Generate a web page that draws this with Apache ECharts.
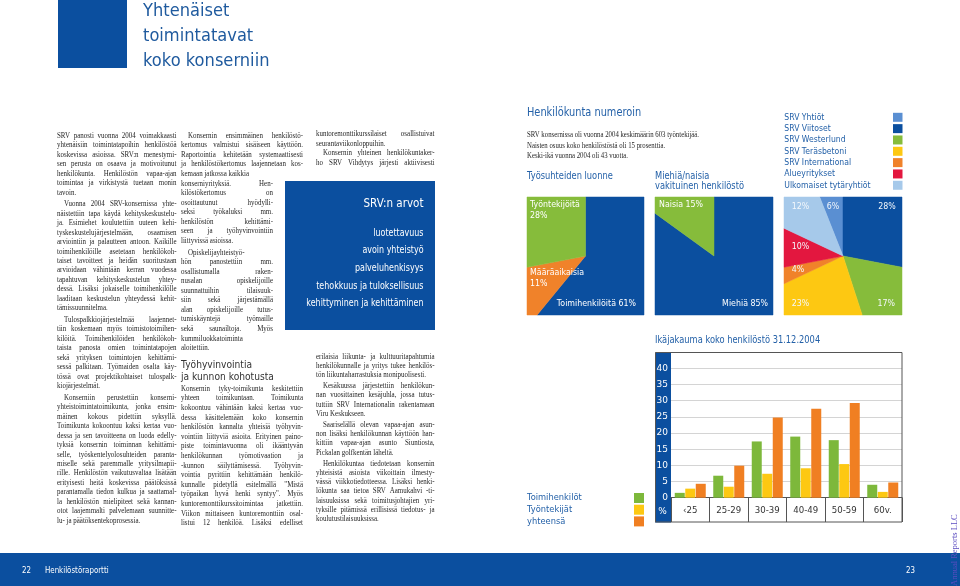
<!DOCTYPE html>
<html><head><meta charset="utf-8">
<script src="https://cdn.jsdelivr.net/npm/echarts@6/dist/echarts.min.js"></script>
<style>html,body{margin:0;padding:0;background:#fff}#c{width:960px;height:586px}</style>
</head><body><div id="c"></div>
<script>
// ---------- chart data ----------
const ageCategories = ['‹25', '25-29', '30-39', '40-49', '50-59', '60v.'];
const ageSeriesNames = ['Toimihenkilöt', 'Työntekijät', 'yhteensä'];
const toimihenkilot = [1.5, 6.8, 17.4, 18.9, 17.8, 4.0];
const tyontekijat = [2.8, 3.4, 7.4, 9.1, 10.4, 1.8];
const yhteensa = [4.3, 9.9, 24.8, 27.5, 29.3, 4.7];
const ageTickMax = 45, ageTickStep = 5;

const contractNames = ['Toimihenkilöitä', 'Määräaikaisia', 'Työntekijöitä'];
const contractValues = [61, 11, 28];
const genderNames = ['Miehiä', 'Naisia'];
const genderValues = [85, 15];
const companyNames = ['SRV Yhtiöt', 'SRV Viitoset', 'SRV Westerlund', 'SRV Teräsbetoni', 'SRV International', 'Alueyritykset', 'Ulkomaiset tytäryhtiöt'];
const companyValues = [6, 28, 17, 23, 4, 10, 12];

// ---------- texts ----------
const pageTitle = ['Yhtenäiset', 'toimintatavat', 'koko konserniin'];
const col1 = [
 {indent:false, lines:['SRV panosti vuonna 2004 voimakkaasti','yhtenäisiin toimintatapoihin henkilöstöä','koskevissa asioissa. SRV:n menestymi-','sen perusta on osaava ja motivoitunut','henkilökunta. Henkilöstön vapaa-ajan','toimintaa ja virkistystä tuetaan monin','tavoin.']},
 {indent:true, lines:['Vuonna 2004 SRV-konsernissa yhte-','näistettiin tapa käydä kehityskeskustelu-','ja. Esimiehet koulutettiin uuteen kehi-','tyskeskustelujärjestelmään, osaamisen','arviointiin ja palautteen antoon. Kaikille','toimihenkilöille asetetaan henkilökoh-','taiset tavoitteet ja heidän suoritustaan','arvioidaan vähintään kerran vuodessa','tapahtuvan kehityskeskustelun yhtey-','dessä. Lisäksi jokaiselle toimihenkilölle','laaditaan keskustelun yhteydessä kehit-','tämissuunnitelma.']},
 {indent:true, lines:['Tulospalkkiojärjestelmää laajennet-','tiin koskemaan myös toimistotoimihen-','kilöitä. Toimihenkilöiden henkilökoh-','taista panosta omien toimintatapojen','sekä yrityksen toimintojen kehittämi-','sessä palkitaan. Työmaiden osalta käy-','tössä ovat projektikohtaiset tulospalk-','kiojärjestelmät.']},
 {indent:true, lines:['Konserniin perustettiin konserni-','yhteistoimintatoimikunta, jonka ensim-','mäinen kokous pidettiin syksyllä.','Toimikunta kokoontuu kaksi kertaa vuo-','dessa ja sen tavoitteena on luoda edelly-','tyksiä konsernin toiminnan kehittämi-','selle, työskentelyolosuhteiden paranta-','miselle sekä paremmalle yritysilmapii-','rille. Henkilöstön vaikutusvaltaa lisätään','erityisesti heitä koskevissa päätöksissä','parantamalla tiedon kulkua ja saattamal-','la henkilöstön mielipiteet sekä kannan-','otot laajemmalti palvelemaan suunnitte-','lu- ja päätöksentekoprosessia.']}
];
const col2a = [
 {indent:true, lines:['Konsernin ensimmäinen henkilöstö-','kertomus valmistui sisäiseen käyttöön.','Raportointia kehitetään systemaattisesti','ja henkilöstökertomus laajennetaan kos-','kemaan jatkossa kaikkia','konserniyrityksiä. Hen-','kilöstökertomus on','osoittautunut hyödylli-','seksi työkaluksi mm.','henkilöstön kehittämi-','seen ja työhyvinvointiin','liittyvissä asioissa.']},
 {indent:true, lines:['Opiskelijayhteistyö-','hön panostettiin mm.','osallistumalla raken-','nusalan opiskelijoille','suunnattuihin tilaisuuk-','siin sekä järjestämällä','alan opiskelijoille tutus-','tumiskäyntejä työmaille','sekä saunailtoja. Myös','kummiluokkatoiminta','aloitettiin.']}
];
const col2Heading = ['Työhyvinvointia', 'ja kunnon kohotusta'];
const col2b = [
 {indent:false, cont:true, lines:['Konsernin tyky-toimikunta keskitettiin','yhteen toimikuntaan. Toimikunta','kokoontuu vähintään kaksi kertaa vuo-','dessa käsittelemään koko konsernin','henkilöstön kannalta yhteisiä työhyvin-','vointiin liittyviä asioita. Erityinen paino-','piste toimintavuonna oli ikääntyvän','henkilökunnan työmotivaation ja','-kunnon säilyttämisessä. Työhyvin-','vointia pyrittiin kehittämään henkilö-','kunnalle pidetyllä esitelmällä "Mistä','työpaikan hyvä henki syntyy". Myös','kuntoremonttikurssitoimintaa jatkettiin.','Viikon mittaiseen kuntoremonttiin osal-','listui 12 henkilöä. Lisäksi edelliset']}
];
const col3a = [
 {indent:false, lines:['kuntoremonttikurssilaiset osallistuivat','seurantaviikonloppuihin.']},
 {indent:true, cont:true, lines:['Konsernin yhteinen henkilökuntaker-','ho SRV Vihdytys järjesti aktiivisesti']}
];
const col3b = [
 {indent:false, lines:['erilaisia liikunta- ja kulttuuritapahtumia','henkilökunnalle ja yritys tukee henkilös-','tön liikuntaharrastuksia monipuolisesti.']},
 {indent:true, lines:['Kesäkuussa järjestettiin henkilökun-','nan vuosittainen kesäjuhla, jossa tutus-','tuttiin SRV Internationalin rakentamaan','Viru Keskukseen.']},
 {indent:true, lines:['Saariselällä olevan vapaa-ajan asun-','non lisäksi henkilökunnan käyttöön han-','kittiin vapaa-ajan asunto Siuntiosta,','Pickalan golfkentän läheltä.']},
 {indent:true, lines:['Henkilökuntaa tiedotetaan konsernin','yhteisistä asioista viikoittain ilmesty-','vässä viikkotiedotteessa. Lisäksi henki-','lökunta saa tietoa SRV Aamukahvi -ti-','laisuuksissa sekä toimitusjohtajien yri-','tyksille pitämissä erillisissä tiedotus- ja','koulutustilaisuuksissa.']}
];
const valuesTitle = 'SRV:n arvot';
const valuesList = ['luotettavuus', 'avoin yhteistyö', 'palveluhenkisyys', 'tehokkuus ja tuloksellisuus', 'kehittyminen ja kehittäminen'];
const factsTitle = 'Henkilökunta numeroin';
const factsLines = ['SRV konsernissa oli vuonna 2004 keskimäärin 603 työntekijää.', 'Naisten osuus koko henkilöstöstä oli 15 prosenttia.', 'Keski-ikä vuonna 2004 oli 43 vuotta.'];
const contractTitle = ['Työsuhteiden luonne'];
const genderTitle = ['Miehiä/naisia', 'vakituinen henkilöstö'];
const ageTitle = 'Ikäjakauma koko henkilöstö 31.12.2004';
const footerLeft = ['22', 'Henkilöstöraportti'];
const footerRight = '23';
const watermark = 'Annual Reports LLC';

// ---------- styles ----------
const BLUE = '#0b4f9f';
const TXTBLUE = '#2461a8';
const SANS = '"DejaVu Sans", Verdana, sans-serif';
const SERIF = '"Liberation Serif", "Times New Roman", serif';
const NARROW = 0.83;
const contractColors = ['#0b4f9f', '#f0822a', '#86bc3b'];
const genderColors = ['#0b4f9f', '#86bc3b'];
const companyColors = ['#5a8fd2', '#0b4f9f', '#86bc3b', '#fdc812', '#f0822a', '#e3173f', '#a6c9ea'];
const barColors = ['#7db83b', '#fdc812', '#f07f22'];

const G = [];
function label(x, y, text, o = {}) {
  G.push({
    type: 'text', x, y, z: o.z == null ? 10 : o.z, scaleX: o.scale == null ? NARROW : o.scale, scaleY: 1,
    originX: 0, originY: 0, rotation: o.rotation || 0, silent: true,
    style: { text, fill: o.color || TXTBLUE, fontSize: o.size || 10, fontFamily: o.family || SANS,
      textAlign: o.align || 'left', textVerticalAlign: 'middle' }
  });
}
function rect(x, y, w, h, fill, o = {}) {
  G.push({ type: 'rect', z: o.z == null ? 1 : o.z, silent: true, shape: { x, y, width: w, height: h },
    style: { fill: fill, stroke: o.stroke || null, lineWidth: o.lw || 0 } });
}

const mctx = document.createElement('canvas').getContext('2d');
function measure(t, size) { mctx.font = size + 'px ' + SERIF; return mctx.measureText(t).width; }
const ragged = new Set(['kemaan jatkossa kaikkia']);
function textBlock(paras, b) {
  let y = b.y0;
  paras.forEach((p, pi) => {
    if (pi > 0) y += b.pg || 0;
    p.lines.forEach((line, li) => {
      const first = li === 0 && p.indent;
      const ind = first ? b.indent : 0;
      const W = (b.narrowFrom != null && y >= b.narrowFrom ? b.narrowW : b.w) - ind;
      const last = (li === p.lines.length - 1 && !p.cont) || ragged.has(line);
      const words = line.split(' ');
      let sx = b.scale;
      let widths = words.map(w => measure(w, b.size) * sx);
      let sp = measure(' ', b.size) * sx;
      let sum = widths.reduce((a, c) => a + c, 0);
      const natural = sum + sp * (words.length - 1);
      if (natural > W) {
        const f = W / natural; sx *= f; widths = widths.map(w => w * f); sp *= f; sum *= f;
      } else if (!last && words.length > 1) {
        sp = (W - sum) / (words.length - 1);
      }
      let x = b.x + ind;
      words.forEach((w, i) => {
        label(x, y, w, { scale: sx, size: b.size, family: SERIF, color: '#262626' });
        x += widths[i] + sp;
      });
      y += b.lh;
    });
  });
}

// page decorations
rect(58, 0, 69, 68, BLUE);
pageTitle.forEach((t, i) => label(143, 11 + i * 25, t, { size: 17.5, scale: 0.93, color: '#1f5a9e' }));
rect(285, 181, 150, 149, BLUE);
rect(0, 553, 960, 33, BLUE);
label(22, 571, footerLeft[0], { size: 8.5, color: '#fff' });
label(45, 571, footerLeft[1], { size: 8.5, color: '#fff' });
label(906, 571, footerRight, { size: 8.5, color: '#fff' });

// body text
const BODY = { size: 8, scale: 0.87, indent: 7 };
textBlock(col1, Object.assign({ x: 57, w: 119.5, y0: 135.7, lh: 9.46, pg: 2.2 }, BODY));
textBlock(col2a, Object.assign({ x: 181, w: 122, narrowFrom: 170, narrowW: 92, y0: 135.7, lh: 9.55, pg: 2.2 }, BODY));
col2Heading.forEach((t, i) => label(181, 365 + i * 11.7, t, { size: 11, color: '#333' }));
textBlock(col2b, Object.assign({ x: 181, w: 122, y0: 388.7, lh: 9.6 }, BODY));
textBlock(col3a, Object.assign({ x: 316, w: 118.5, y0: 134.3, lh: 9.45, pg: 0 }, BODY));
textBlock(col3b, Object.assign({ x: 316, w: 118.5, y0: 356.7, lh: 9.3, pg: 1.5 }, BODY));

// values box
label(423.5, 203.3, valuesTitle, { size: 12.5, color: '#fff', align: 'right' });
valuesList.forEach((t, i) => label(423.5, 233.3 + i * 17.6, t, { size: 9.6, color: '#fff', align: 'right' }));

// right page texts
label(527, 113.3, factsTitle, { size: 11.8, color: TXTBLUE });
factsLines.forEach((t, i) => label(527, 135 + i * 10.5, t, { size: 7.8, scale: 0.87, family: SERIF, color: '#262626' }));
contractTitle.forEach((t, i) => label(527, 176.5 + i * 10, t, { size: 10, color: TXTBLUE }));
genderTitle.forEach((t, i) => label(655, 176.5 + i * 10, t, { size: 10, color: TXTBLUE }));
companyNames.forEach((n, i) => {
  label(784.3, 117.3 + i * 11.33, n, { size: 9.3, color: TXTBLUE });
  rect(893, 117.3 + i * 11.33 - 4.5, 9.5, 9, companyColors[i]);
});
label(655, 340.7, ageTitle, { size: 10, color: TXTBLUE });

// square chart labels
const W = '#fff';
label(530, 205, contractNames[2], { size: 9.5, color: W });
label(530, 215.5, contractValues[2] + '%', { size: 9.5, color: W });
label(530, 273, contractNames[1], { size: 9.5, color: W });
label(530, 284, contractValues[1] + '%', { size: 9.5, color: W });
label(636, 303.5, contractNames[0] + ' ' + contractValues[0] + '%', { size: 9.5, color: W, align: 'right' });
label(659, 205, genderNames[1] + ' ' + genderValues[1] + '%', { size: 9.5, color: W });
label(768, 303.5, genderNames[0] + ' ' + genderValues[0] + '%', { size: 9.5, color: W, align: 'right' });
const compLabelPos = [[826.7, 206.7, 'left'], [895.7, 206.7, 'right'], [895, 303.3, 'right'], [791.7, 303.3, 'left'], [791.7, 269.3, 'left'], [791.7, 246.7, 'left'], [791.7, 206.7, 'left']];
companyValues.forEach((v, i) => label(compLabelPos[i][0], compLabelPos[i][1], v + '%', { size: 9.5, color: '#f4f8fc', align: compLabelPos[i][2] }));

// age chart frame & strip
rect(655, 352.5, 16, 170, BLUE, { z: 0 });
rect(655.5, 352.5, 246.5, 169.5, 'transparent', { stroke: '#555', lw: 1, z: 6 });
label(662.5, 511.5, '%', { size: 9, color: '#fff', scale: 1, align: 'center', z: 12 });

// watermark
label(955, 586, watermark, { size: 8.5, scale: 1, family: SERIF, color: '#5b4cc0', rotation: Math.PI / 2 });

// ---------- square "pie" custom series ----------
function squarePie(idx, names, values, colors, startShift) {
  const total = values.reduce((a, c) => a + c, 0);
  let acc = startShift;
  const data = values.map((v, i) => { const s = acc; acc += v; return { name: names[i], value: [s / total, acc / total], itemStyle: { color: colors[i] } }; });
  return {
    type: 'custom', coordinateSystem: 'cartesian2d', xAxisIndex: idx, yAxisIndex: idx + 1, silent: true, data,
    renderItem: (params, api) => {
      const a0 = api.value(0) * 2 * Math.PI, a1 = api.value(1) * 2 * Math.PI;
      const bp = a => { const s = Math.sin(a), c = Math.cos(a); const t = 1 / Math.max(Math.abs(s), Math.abs(c)); return api.coord([s * t, c * t]); };
      const pts = [api.coord([0, 0]), bp(a0)];
      for (let k = -8; k < 16; k++) { const ca = Math.PI / 4 + k * Math.PI / 2; if (ca > a0 && ca < a1) pts.push(bp(ca)); }
      pts.push(bp(a1));
      const col = api.visual('color');
      return { type: 'polygon', shape: { points: pts }, style: { fill: col, stroke: col, lineWidth: 0.5 } };
    }
  };
}
const sqAxis = i => ({ gridIndex: i, type: 'value', min: -1, max: 1, show: false });

const option = {
  animation: false,
  backgroundColor: '#fff',
  textStyle: { fontFamily: SANS },
  grid: [
    { left: 671, top: 352.2, width: 231, height: 145.5 },
    { left: 527, top: 197, width: 117, height: 118 },
    { left: 655, top: 197, width: 118, height: 118 },
    { left: 784, top: 197, width: 118, height: 118 }
  ],
  legend: {
    data: ageSeriesNames, orient: 'vertical', left: 527, top: 493, align: 'right', padding: 0,
    itemWidth: 10, itemHeight: 10, itemGap: 1.7, icon: 'rect', selectedMode: false,
    formatter: '{t|{name}}',
    textStyle: { color: TXTBLUE, fontFamily: SANS, fontSize: 8.3,
      rich: { t: { width: 102, align: 'left', color: TXTBLUE, fontFamily: SANS, fontSize: 8.3 } } }
  },
  xAxis: [
    { gridIndex: 0, type: 'category', data: ageCategories,
      axisLine: { lineStyle: { color: '#555', width: 1 } },
      axisTick: { show: true, interval: 0, length: 24.3, lineStyle: { color: '#555' } },
      axisLabel: { color: '#333', fontFamily: SANS, fontSize: 8.6, margin: 9, interval: 0 } },
    sqAxis(1), sqAxis(2), sqAxis(3)
  ],
  yAxis: [
    { gridIndex: 0, type: 'value', position: 'left', min: 0, max: ageTickMax, interval: ageTickStep,
      axisLine: { show: false }, axisTick: { show: false }, axisLabel: { show: false },
      splitLine: { lineStyle: { color: '#d4d4d4', width: 1 } } },
    { gridIndex: 0, type: 'value', position: 'left', min: 0, max: ageTickMax, interval: ageTickStep, z: 10,
      axisLine: { show: false }, axisTick: { show: false }, splitLine: { show: false },
      axisLabel: { color: '#fff', fontFamily: SANS, fontSize: 9, margin: 3, formatter: v => v === ageTickMax ? '' : String(v) } },
    sqAxis(1), sqAxis(2), sqAxis(3)
  ],
  series: [
    { name: ageSeriesNames[0], type: 'bar', xAxisIndex: 0, yAxisIndex: 0, data: toimihenkilot, barWidth: 10, barGap: '5%', itemStyle: { color: barColors[0] } },
    { name: ageSeriesNames[1], type: 'bar', xAxisIndex: 0, yAxisIndex: 0, data: tyontekijat, barWidth: 10, barGap: '5%', itemStyle: { color: barColors[1] } },
    { name: ageSeriesNames[2], type: 'bar', xAxisIndex: 0, yAxisIndex: 0, data: yhteensa, barWidth: 10, barGap: '5%', itemStyle: { color: barColors[2] } },
    squarePie(1, contractNames, contractValues, contractColors, 0),
    squarePie(2, genderNames, genderValues, genderColors, 0),
    squarePie(3, companyNames, companyValues, companyColors, -companyValues[0])
  ],
  graphic: { elements: G }
};
echarts.init(document.getElementById('c'), null, { renderer: 'canvas' }).setOption(option);
</script>
</body></html>
